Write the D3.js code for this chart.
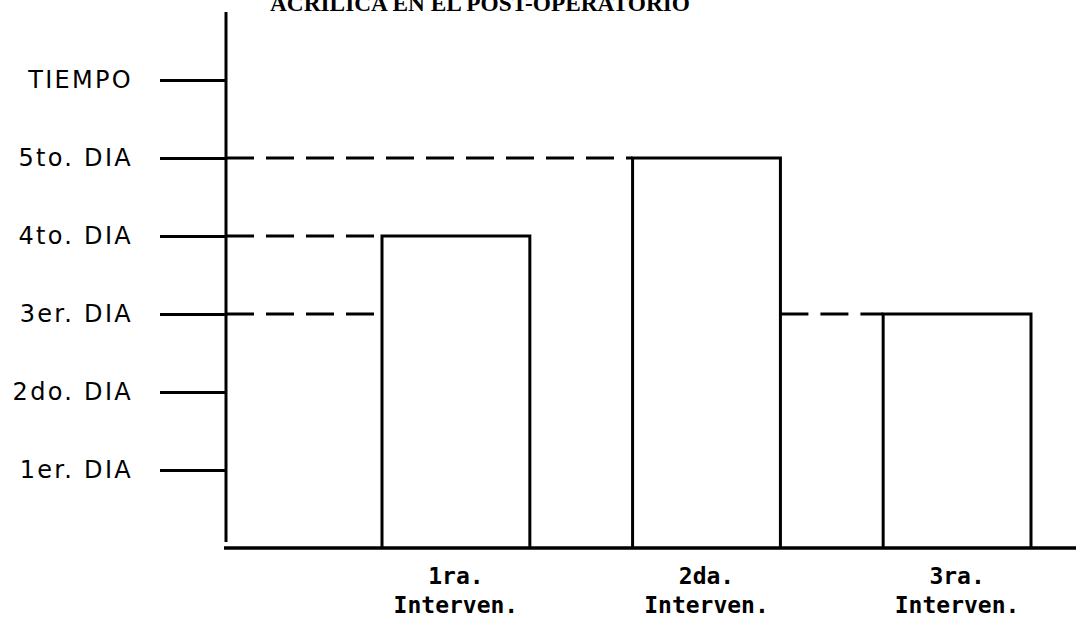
<!DOCTYPE html>
<html lang="es">
<head>
    <meta charset="UTF-8">
    <title>Acrilica en el post-operatorio</title>
    <script src="https://d3js.org/d3.v7.min.js"></script>
    <style>
        body { margin: 0; background: #fff; }
    </style>
</head>
<body>
    <svg id="chart" width="1076" height="617"></svg>

    <script>
        // Data
        var titleText = "ACRILICA EN EL POST-OPERATORIO";
        var categories = ["1ra. Interven.", "2da. Interven.", "3ra. Interven."];
        var values = [4, 5, 3];
        var tickValues = [1, 2, 3, 4, 5, 6];
        var tickLabels = ["1er. DIA", "2do. DIA", "3er. DIA", "4to. DIA", "5to. DIA", "TIEMPO"];
        // dashed guide lines: level, start (null = axis) and end category
        var guideValues = [4, 5, 3, 3];
        var guideFrom = [null, null, null, "2da. Interven."];
        var guideTo = ["1ra. Interven.", "2da. Interven.", "1ra. Interven.", "3ra. Interven."];

        // Layout
        var axisX = 226, baseY = 548, rightX = 1076;

        var svg = d3.select("#chart");

        var x = d3.scaleBand()
                  .domain(categories)
                  .range([382, 1031])
                  .paddingInner(0.41)
                  .paddingOuter(0);

        var y = d3.scaleLinear()
                  .domain([0, 6])
                  .range([baseY, baseY - 6 * 78]);

        // title (cut at the top edge, as in the scan)
        svg.append("text")
           .attr("x", 270)
           .attr("y", 11)
           .attr("textLength", 420)
           .attr("lengthAdjust", "spacingAndGlyphs")
           .style("font-family", "'Liberation Serif', 'DejaVu Serif', serif")
           .style("font-weight", "bold")
           .style("font-size", "24px")
           .text(titleText);

        // y axis ticks + labels
        var yAxis = svg.append("g")
           .attr("transform", "translate(" + axisX + ",0)")
           .call(d3.axisLeft(y)
                   .tickValues(tickValues)
                   .tickSize(66)
                   .tickPadding(27)
                   .tickFormat(function(d, i) { return tickLabels[i]; }));
        yAxis.select(".domain").remove();
        yAxis.selectAll(".tick line")
             .attr("stroke", "#000")
             .attr("stroke-width", 3);
        yAxis.selectAll(".tick text")
             .attr("fill", "#000")
             .style("font-family", "'DejaVu Sans', sans-serif")
             .style("font-size", "24px")
             .style("letter-spacing", "2.3px");

        // axis lines
        svg.append("line")
           .attr("x1", axisX).attr("x2", axisX)
           .attr("y1", 12).attr("y2", baseY - 6)
           .attr("stroke", "#000").attr("stroke-width", 3);
        svg.append("line")
           .attr("x1", axisX - 2).attr("x2", rightX)
           .attr("y1", baseY).attr("y2", baseY)
           .attr("stroke", "#000").attr("stroke-width", 3.5);

        // dashed guides
        svg.selectAll(".guide")
           .data(guideValues)
           .enter().append("line")
           .attr("class", "guide")
           .attr("x1", function(d, i) { return guideFrom[i] ? x(guideFrom[i]) + x.bandwidth() : axisX; })
           .attr("x2", function(d, i) { return x(guideTo[i]); })
           .attr("y1", d => y(d))
           .attr("y2", d => y(d))
           .attr("stroke", "#000")
           .attr("stroke-width", 3)
           .attr("stroke-dasharray", "28,12");

        // bars (open at bottom, sitting on the baseline)
        svg.selectAll(".bar")
           .data(values)
           .enter().append("path")
           .attr("class", "bar")
           .attr("d", function(d, i) {
               var x0 = x(categories[i]), x1 = x0 + x.bandwidth();
               return "M" + x0 + "," + baseY + "V" + y(d) + "H" + x1 + "V" + baseY;
           })
           .attr("fill", "none")
           .attr("stroke", "#000")
           .attr("stroke-width", 3);

        // x labels (two lines)
        var xl = svg.selectAll(".xlabel")
           .data(categories)
           .enter().append("text")
           .attr("class", "xlabel")
           .attr("text-anchor", "middle")
           .style("font-family", "'DejaVu Sans Mono', monospace")
           .style("font-weight", "bold")
           .style("font-size", "23px");
        xl.append("tspan")
          .attr("x", d => x(d) + x.bandwidth() / 2)
          .attr("y", 584)
          .text(d => d.split(" ")[0]);
        xl.append("tspan")
          .attr("x", d => x(d) + x.bandwidth() / 2)
          .attr("y", 613)
          .text(d => d.split(" ")[1]);
    </script>
</body>
</html>
